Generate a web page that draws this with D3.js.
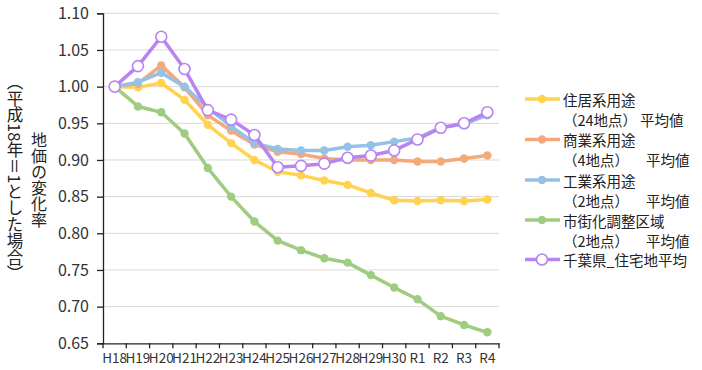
<!DOCTYPE html>
<html><head><meta charset="utf-8">
<script src="https://cdn.jsdelivr.net/npm/d3@7/dist/d3.min.js"></script>
<style>
html,body{margin:0;padding:0;background:#fff;}
svg{display:block;font-family:"Noto Sans CJK JP","Noto Sans",sans-serif;}
</style></head>
<body><svg id="c" width="702" height="370"></svg>
<script>
const categories = ["H18","H19","H20","H21","H22","H23","H24","H25","H26","H27","H28","H29","H30","R1","R2","R3","R4"];
const yTicks = [0.65,0.70,0.75,0.80,0.85,0.90,0.95,1.00,1.05,1.10];
const seriesNames = ["住居系用途","商業系用途","工業系用途","市街化調整区域","千葉県_住宅地平均"];
const seriesSub = ["（24地点）","（4地点）","（2地点）","（2地点）",""];
const residential = [1.000,0.999,1.005,0.982,0.948,0.923,0.900,0.884,0.879,0.872,0.866,0.855,0.845,0.844,0.845,0.844,0.846];
const commercial  = [1.000,1.004,1.029,0.999,0.961,0.940,0.921,0.911,0.908,0.902,0.900,0.900,0.900,0.898,0.898,0.902,0.906];
const industrial  = [1.000,1.006,1.019,1.000,0.971,0.946,0.923,0.915,0.913,0.913,0.918,0.920,0.925,0.930,0.944,0.949,0.961];
const urbanCtrl   = [1.000,0.973,0.965,0.936,0.889,0.850,0.816,0.790,0.777,0.766,0.760,0.743,0.726,0.710,0.687,0.675,0.665];
const chibaAvg    = [1.000,1.028,1.068,1.024,0.968,0.955,0.934,0.890,0.892,0.895,0.903,0.906,0.913,0.928,0.944,0.950,0.965];
const seriesValues = [residential, commercial, industrial, urbanCtrl, chibaAvg];
const colors = ["#FFD34F","#F4A97B","#95C1E6","#9FCC80","#B983F2"];

const svg = d3.select("#c");
const L = 103, R = 499, T = 13.3, B = 343.3;
const x = d3.scaleBand().domain(categories).range([L, R]).padding(0);
const y = d3.scaleLinear().domain([0.65, 1.10]).range([B, T]);
const cx = c => x(c) + x.bandwidth()/2;

// grid
svg.append("g").selectAll("line").data(yTicks.filter(v => v > 0.65)).join("line")
  .attr("x1", L).attr("x2", R).attr("y1", d => y(d)).attr("y2", d => y(d))
  .attr("stroke", "#d9d9d9").attr("stroke-width", 1);

// y axis
const ya = svg.append("g").attr("transform", `translate(${L},0)`)
  .call(d3.axisLeft(y).tickValues(yTicks).tickFormat(d3.format(".2f")).tickSize(6).tickPadding(8));
ya.select(".domain").attr("stroke", "#222").attr("stroke-width", 1.3);
ya.selectAll(".tick line").attr("stroke", "#222").attr("stroke-width", 1.3);
ya.selectAll("text").attr("font-size", 16).attr("fill", "#333").attr("font-family", "'Noto Sans CJK JP'");

// x axis
const xa = svg.append("g").attr("transform", `translate(0,${B})`)
  .call(d3.axisBottom(x).tickSize(0).tickPadding(10));
xa.select(".domain").attr("stroke", "#222").attr("stroke-width", 1.3);
xa.selectAll("text").attr("font-size", 13.5).attr("fill", "#333").attr("font-family", "'Noto Sans CJK JP'");
const bounds = categories.map(c => x(c)).concat([x(categories[categories.length-1]) + x.bandwidth()]);
xa.append("g").selectAll("line").data(bounds).join("line")
  .attr("x1", d => d).attr("x2", d => d).attr("y1", 0).attr("y2", 5)
  .attr("stroke", "#222").attr("stroke-width", 1.3);

// lines
const line = d3.line().x((d,i) => cx(categories[i])).y(d => y(d));
seriesValues.forEach((vals, si) => {
  const g = svg.append("g");
  g.append("path").datum(vals).attr("d", line).attr("fill", "none")
    .attr("stroke", colors[si]).attr("stroke-width", 3.5).attr("stroke-linejoin", "round");
  const open = si === 4;
  g.selectAll("circle").data(vals).join("circle")
    .attr("cx", (d,i) => cx(categories[i])).attr("cy", d => y(d))
    .attr("r", open ? 5.5 : 4.2)
    .attr("fill", open ? "#fff" : colors[si])
    .attr("stroke", open ? colors[si] : "none").attr("stroke-width", 1.6);
});

// axis titles (vertical)
svg.append("text").attr("x", 39).attr("y", 180)
  .style("writing-mode", "vertical-rl").attr("text-anchor", "middle")
  .attr("font-size", 16).attr("fill", "#222").text("地価の変化率");
svg.append("text").attr("x", 15).attr("y", 178)
  .style("writing-mode", "vertical-rl").attr("text-anchor", "middle")
  .attr("font-size", 16.5).attr("fill", "#222").text("（平成18年＝1とした場合）");

// legend
const rows = [99, 139.5, 180, 220, 259.5];
const lg = svg.append("g");
seriesNames.forEach((name, i) => {
  const ry = rows[i];
  lg.append("line").attr("x1", 525).attr("x2", 560).attr("y1", ry).attr("y2", ry)
    .attr("stroke", colors[i]).attr("stroke-width", 3.5);
  lg.append("circle").attr("cx", 542).attr("cy", ry).attr("r", i === 4 ? 5.5 : 4.2)
    .attr("fill", i === 4 ? "#fff" : colors[i])
    .attr("stroke", i === 4 ? colors[i] : "none").attr("stroke-width", 1.6);
  lg.append("text").attr("x", 563).attr("y", ry + 1.5).attr("dy", "0.35em")
    .attr("font-size", 14.5).attr("fill", "#222").text(name);
  if (seriesSub[i]) {
    lg.append("text").attr("x", 563).attr("y", ry + 21.5).attr("dy", "0.35em")
      .attr("font-size", 14.5).attr("fill", "#222").text(seriesSub[i]);
    lg.append("text").attr("x", i === 0 ? 640 : 646).attr("y", ry + 21.5).attr("dy", "0.35em")
      .attr("font-size", 14.5).attr("fill", "#222").text("平均値");
  }
});
</script></body></html>
